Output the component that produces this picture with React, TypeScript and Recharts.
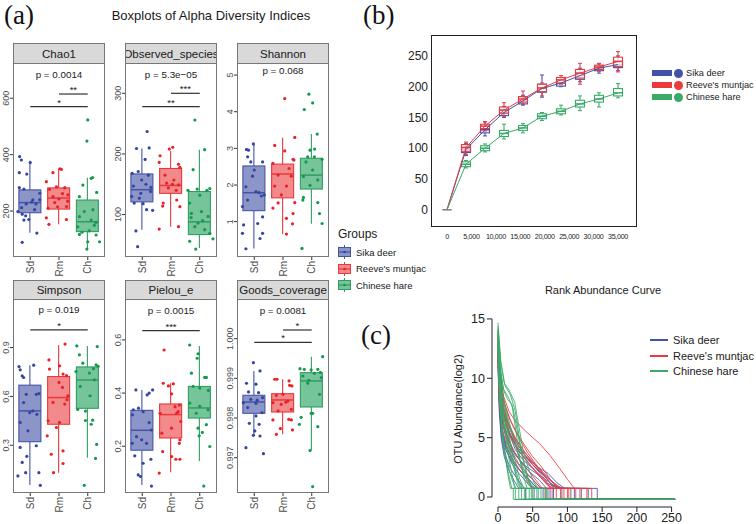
import React from "react";
import {
  ComposedChart,
  LineChart,
  Bar,
  Line,
  Scatter,
  XAxis,
  YAxis,
  ReferenceLine,
} from "recharts";

// ---------- shared ----------
const groupCodes = ["Sd", "Rm", "Ch"];
const groupNames = ["Sika deer", "Reeve's muntjac", "Chinese hare"];
const boxFill = ["#8c95c8", "#f28a8c", "#76c49a"];
const boxStroke = ["#4654a6", "#e8383b", "#2f9d62"];
const pointColor = ["#3546a0", "#ec2028", "#16994f"];
const lineColor = ["#4252a8", "#ea3a3d", "#3aa96a"];

const SANS = '"Liberation Sans", Arial, Helvetica, sans-serif';
const SERIF = '"Liberation Serif", "Times New Roman", serif';

// ---------- (a) boxplots: [lo, q1, median, q3, hi] per group ----------
const chao1Stats = [[123, 194, 230, 275, 378], [153, 207, 246, 282, 349], [65, 127, 162, 239, 318]];
const chao1Pts = [
  [[-0.37, 393], [-0.31, 381], [-0.38, 336], [-0.12, 331], [0, 372], [-0.38, 283], [-0.22, 278], [0.33, 263], [0.09, 240], [-0.14, 225], [0.2, 225], [-0.43, 198], [-0.28, 189], [-0.16, 183], [-0.22, 168], [-0.05, 170], [0.23, 122], [-0.28, 89], [0.33, 240], [0.05, 232], [-0.3, 212], [0.15, 205]],
  [[-0.21, 336], [0.08, 348], [0.03, 350], [-0.44, 304], [-0.33, 277], [-0.09, 286], [0.2, 283], [-0.21, 251], [0.31, 257], [-0.38, 210], [0.26, 216], [-0.44, 176], [-0.35, 153], [0.26, 170], [0, 243], [0.12, 262], [-0.15, 230], [0.3, 235], [-0.05, 215]],
  [[0, 523], [-0.03, 448], [0.12, 316], [0.17, 319], [-0.17, 292], [0.31, 266], [-0.29, 251], [-0.12, 198], [-0.29, 180], [0.12, 168], [0.23, 150], [-0.29, 117], [0.29, 115], [0, 91], [0.41, 91], [-0.03, 65], [-0.35, 144], [0.29, 160], [0.05, 130], [-0.2, 125], [0.18, 205]],
];

const observedStats = [[75, 121, 141, 167, 209], [80, 135, 148, 176, 205], [45, 67, 88, 138, 207]];
const observedPts = [
  [[0.17, 237], [-0.2, 209], [0.24, 210], [0.1, 191], [-0.35, 168], [-0.14, 171], [0.21, 165], [-0.31, 147], [0.13, 150], [0.29, 138], [-0.37, 130], [-0.1, 127], [-0.28, 119], [0.03, 118], [0.15, 108], [0.36, 107], [-0.22, 73], [-0.16, 47], [-0.02, 157], [0.3, 145], [-0.05, 135]],
  [[-0.38, 197], [-0.41, 186], [-0.06, 208], [0.06, 211], [0.26, 183], [0.31, 178], [-0.21, 165], [0.1, 157], [0.26, 149], [-0.27, 119], [-0.29, 114], [0.2, 124], [0.31, 113], [-0.41, 76], [0.26, 80], [-0.09, 144], [0.05, 150], [-0.15, 152], [0.18, 140]],
  [[-0.17, 256], [0.17, 207], [-0.23, 174], [-0.09, 142], [0.35, 143], [-0.41, 140], [0, 132], [-0.35, 119], [-0.29, 102], [0.06, 105], [0.29, 97], [-0.06, 86], [0.17, 75], [0.35, 69], [-0.35, 56], [-0.14, 43], [0.46, 60], [-0.17, 80], [0.25, 140], [0.1, 90], [-0.3, 95]],
];

const shannonStats = [[0.27, 1.3, 1.79, 2.52, 3.09], [0.66, 1.65, 2.3, 2.57, 3.29], [0.94, 1.89, 2.27, 2.73, 3.39]];
const shannonPts = [
  [[-0.03, 3.12], [-0.27, 2.97], [-0.2, 2.95], [-0.23, 2.77], [-0.12, 2.63], [0.29, 2.63], [0, 2.41], [-0.06, 2.24], [-0.29, 1.95], [0.06, 1.82], [0.17, 1.79], [0.35, 1.73], [-0.41, 1.41], [-0.23, 1.59], [0.29, 1.13], [0.12, 0.95], [-0.37, 0.91], [-0.41, 0.68], [0.29, 0.68], [0.2, 0.54], [-0.29, 0.26], [0.25, 1.7]],
  [[0.06, 4.36], [-0.29, 3.08], [0.41, 3.3], [0.06, 2.93], [0.35, 2.7], [-0.35, 2.59], [0.21, 2.45], [-0.17, 2.27], [0.29, 2.24], [-0.29, 1.97], [0.12, 1.97], [-0.06, 1.73], [0.41, 1.52], [-0.17, 1.51], [-0.35, 1.37], [0.35, 1.22], [0.12, 1.09], [0.33, 0.94], [0.12, 0.66], [0.38, 2.68]],
  [[-0.1, 4.48], [0.03, 4.24], [-0.26, 4.06], [0.19, 3.39], [-0.06, 2.95], [-0.14, 2.77], [0.09, 2.77], [0.36, 2.7], [-0.2, 2.63], [0.03, 2.41], [-0.29, 2.23], [0.21, 2.14], [-0.06, 1.99], [-0.29, 1.66], [0.21, 1.52], [-0.31, 1.59], [0.27, 1.22], [0.36, 0.95], [-0.34, 0.27], [0.1, 2.98]],
];

const simpsonStats = [[0.056, 0.322, 0.511, 0.669, 0.792], [0.132, 0.429, 0.593, 0.722, 0.915], [0.224, 0.527, 0.701, 0.781, 0.91]];
const simpsonPts = [
  [[-0.39, 0.783], [-0.35, 0.763], [-0.28, 0.726], [-0.23, 0.716], [0.12, 0.792], [-0.14, 0.613], [0.21, 0.613], [0.3, 0.617], [-0.23, 0.562], [0.09, 0.511], [-0.02, 0.501], [0.23, 0.49], [-0.35, 0.44], [-0.08, 0.389], [0.21, 0.297], [-0.35, 0.287], [-0.28, 0.195], [-0.12, 0.232], [-0.16, 0.132], [0.3, 0.132], [-0.43, 0.112], [0.35, 0.054]],
  [[0.21, 0.921], [-0.35, 0.824], [0.02, 0.788], [-0.33, 0.768], [0.14, 0.737], [0.26, 0.727], [0, 0.686], [0.12, 0.655], [0.31, 0.604], [-0.21, 0.563], [0.2, 0.553], [-0.38, 0.45], [0.02, 0.44], [-0.09, 0.409], [-0.41, 0.358], [-0.27, 0.245], [0.14, 0.266], [0.14, 0.188], [-0.19, 0.132], [0.28, 0.58]],
  [[-0.38, 0.91], [0.33, 0.906], [-0.29, 0.855], [-0.17, 0.804], [0.29, 0.794], [-0.41, 0.753], [0.06, 0.743], [0.23, 0.702], [-0.26, 0.661], [0.08, 0.604], [-0.35, 0.52], [-0.08, 0.51], [-0.08, 0.452], [0.17, 0.454], [0.12, 0.429], [0.31, 0.305], [0.27, 0.219], [-0.12, 0.054], [0.36, 0.785], [0.2, 0.77]],
];

const pielouStats = [[0.054, 0.185, 0.26, 0.335, 0.412], [0.102, 0.231, 0.319, 0.359, 0.437], [0.144, 0.306, 0.344, 0.425, 0.577]];
const pielouPts = [
  [[-0.22, 0.412], [0.36, 0.412], [0.24, 0.4], [0.17, 0.393], [-0.31, 0.337], [-0.13, 0.343], [0.03, 0.33], [-0.34, 0.318], [0.24, 0.289], [0.32, 0.261], [-0.2, 0.236], [-0.02, 0.224], [-0.35, 0.211], [0.15, 0.211], [-0.26, 0.164], [0.3, 0.151], [0.03, 0.136], [-0.14, 0.092], [-0.06, 0.086], [0.32, 0.05]],
  [[-0.24, 0.562], [-0.27, 0.437], [-0.09, 0.427], [0.08, 0.435], [0.02, 0.397], [0.14, 0.349], [0.29, 0.355], [-0.38, 0.324], [0.2, 0.324], [0.34, 0.293], [0.02, 0.268], [-0.32, 0.249], [0.31, 0.224], [0.29, 0.211], [-0.29, 0.18], [0.02, 0.161], [0.17, 0.151], [0.31, 0.151], [-0.41, 0.099], [0.25, 0.33]],
  [[-0.35, 0.581], [-0.06, 0.548], [-0.09, 0.531], [-0.29, 0.475], [0.17, 0.459], [0.23, 0.459], [-0.23, 0.425], [0, 0.419], [-0.35, 0.362], [0, 0.35], [0.29, 0.337], [-0.12, 0.324], [0.23, 0.281], [-0.06, 0.268], [0.09, 0.252], [-0.02, 0.239], [0.35, 0.199], [0.14, 0.05], [0.3, 0.41]],
];

const goodsStats = [[0.997547, 0.998119, 0.998404, 0.998573, 0.999186], [0.99759, 0.998152, 0.998455, 0.998613, 0.998977], [0.997187, 0.998278, 0.998934, 0.999143, 0.999546]];
const goodsPts = [
  [[-0.03, 0.999395], [0.2, 0.999186], [-0.27, 0.998876], [0.06, 0.998852], [-0.2, 0.998658], [0.15, 0.99864], [-0.38, 0.998388], [-0.12, 0.998472], [0.29, 0.998514], [0.06, 0.998371], [-0.23, 0.998262], [0.27, 0.998136], [0.06, 0.998052], [-0.17, 0.997867], [0.17, 0.997842], [0.02, 0.997674], [-0.03, 0.997565], [0.2, 0.997547], [-0.29, 0.997253], [0.32, 0.997102], [0.1, 0.99845]],
  [[-0.29, 0.998977], [-0.21, 0.998977], [0.21, 0.998934], [0.23, 0.998825], [0.31, 0.998808], [0, 0.998598], [-0.23, 0.998573], [0.17, 0.998429], [-0.35, 0.998388], [-0.06, 0.998346], [0.29, 0.99822], [-0.17, 0.998178], [0.2, 0.997968], [0.29, 0.997951], [-0.35, 0.997951], [-0.09, 0.997733], [0.33, 0.997699], [-0.23, 0.99759], [0.1, 0.9984]],
  [[0.38, 0.999546], [-0.41, 0.999244], [-0.26, 0.999228], [-0.02, 0.999211], [0.21, 0.999228], [0.09, 0.999126], [-0.31, 0.999059], [0.33, 0.999018], [-0.14, 0.998876], [0.27, 0.998598], [-0.37, 0.998018], [-0.43, 0.997842], [0.03, 0.998119], [-0.02, 0.998119], [0.21, 0.997783], [-0.06, 0.997179], [0.03, 0.996271], [0.3, 0.99915], [-0.1, 0.99895]],
];

// brackets: [fromGroup, toGroup, y, stars]
const panels = [
  { title: "Chao1", domain: [37, 725], ticks: [200, 400, 600], digits: 0, stats: chao1Stats, pts: chao1Pts, brackets: [[1, 3, 570, "*"], [2, 3, 615, "**"]], pY: 683, p: "p = 0.0014" },
  { title: "Observed_species", domain: [30, 350], ticks: [100, 200, 300], digits: 0, stats: observedStats, pts: observedPts, brackets: [[1, 3, 278, "**"], [2, 3, 300, "***"]], pY: 331, p: "p = 5.3e\u221205" },
  { title: "Shannon", domain: [0.035, 5.33], ticks: [1, 2, 3, 4, 5], digits: 0, stats: shannonStats, pts: shannonPts, brackets: [], pY: 5.11, p: "p = 0.068" },
  { title: "Simpson", domain: [0.007, 1.198], ticks: [0.3, 0.6, 0.9], digits: 1, stats: simpsonStats, pts: simpsonPts, brackets: [[1, 3, 1.009, "*"]], pY: 1.136, p: "p = 0.019" },
  { title: "Pielou_e", domain: [0.024, 0.754], ticks: [0.2, 0.4, 0.6], digits: 1, stats: pielouStats, pts: pielouPts, brackets: [[1, 3, 0.635, "***"]], pY: 0.712, p: "p = 0.0015" },
  { title: "Goods_coverage", domain: [0.99611, 1.001], ticks: [0.997, 0.998, 0.999, 1.0], digits: 3, stats: goodsStats, pts: goodsPts, brackets: [[1, 3, 0.999909, "*"], [2, 3, 1.000219, "*"]], pY: 1.000698, p: "p = 0.0081" },
];

// ---------- (b) rarefaction ----------
const rareX = [0, 3889, 7778, 11667, 15556, 19444, 23333, 27222, 31111, 35000];
const rareXTicks = [0, 5000, 10000, 15000, 20000, 25000, 30000, 35000];
const sikaMed = [0, 98, 130, 158, 177, 197, 206, 218, 230, 236];
const sikaQ1 = [0, 93, 125, 153, 172, 191, 201, 212, 226, 231];
const sikaQ3 = [0, 103, 136, 163, 182, 204, 211, 223, 234, 242];
const sikaLo = [0, 88, 120, 150, 170, 183, 200, 208, 222, 226];
const sikaHi = [0, 108, 143, 168, 186, 219, 215, 230, 237, 250];
const reeveMed = [0, 101, 136, 162, 180, 198, 211, 222, 232, 241];
const reeveQ1 = [0, 95, 132, 157, 175, 192, 206, 214, 228, 233];
const reeveQ3 = [0, 106, 139, 167, 184, 204, 215, 228, 235, 248];
const reeveLo = [0, 90, 128, 152, 172, 185, 204, 204, 225, 224];
const reeveHi = [0, 110, 143, 174, 193, 206, 218, 238, 238, 257];
const hareMed = [0, 74, 100, 124, 133, 152, 160, 172, 180, 190];
const hareQ1 = [0, 70, 96, 119, 129, 148, 156, 167, 175, 185];
const hareQ3 = [0, 78, 104, 129, 137, 156, 164, 178, 186, 197];
const hareLo = [0, 68, 94, 115, 125, 145, 154, 161, 167, 182];
const hareHi = [0, 80, 107, 139, 140, 158, 170, 185, 190, 205];

// ---------- (c) rank abundance: flat [rank, log2 abundance, ...] ----------
const CURVE_FLOOR = -0.2;
const CURVE_END = 255;
const sikaCurves = [
  [0, 13.5, 3, 9.5, 8, 7, 15, 5.5, 25, 4, 35, 3.2, 50, 2.4, 65, 1.6, 80, 1, 95, 0.73, 143, 0.73],
  [0, 12.8, 3, 8.8, 8, 6.2, 15, 4.8, 25, 3.5, 40, 2.6, 55, 2, 70, 1.2, 85, 0.73, 105, 0.73],
  [0, 13, 3, 9, 9, 6.8, 18, 5.2, 30, 3.8, 45, 3, 60, 2.2, 75, 1.4, 88, 0.73, 120, 0.73],
  [0, 12.2, 2, 8, 6, 5.8, 12, 4.2, 22, 3, 35, 2, 48, 1.2, 58, 0.73, 72, 0.73],
  [0, 13.8, 3, 10, 8, 7.5, 16, 6, 26, 4.6, 38, 3.6, 52, 2.6, 66, 1.8, 78, 1, 90, 0.73, 110, 0.73],
  [0, 11.5, 2, 7.5, 5, 5, 10, 3.6, 18, 2.4, 28, 1.5, 38, 0.73, 52, 0.73],
  [0, 12.5, 3, 8.5, 7, 6, 14, 4.5, 24, 3.2, 36, 2.2, 50, 1.5, 62, 0.73, 80, 0.73],
  [0, 13.2, 3, 9.2, 8, 7, 16, 5.5, 28, 4.2, 42, 3.3, 58, 2.5, 72, 2, 85, 1.2, 96, 0.73, 130, 0.73],
  [0, 12, 2, 8.2, 6, 5.5, 12, 4, 20, 2.8, 30, 2, 42, 1.2, 50, 0.73, 65, 0.73],
  [0, 11.8, 2, 7.8, 5, 5.4, 11, 4, 20, 3, 32, 2.2, 45, 1.5, 56, 0.73, 75, 0.73],
  [0, 12.6, 3, 8.6, 7, 6.4, 14, 5, 22, 3.9, 34, 2.9, 46, 2.1, 60, 1.4, 70, 0.73, 92, 0.73],
  [0, 11, 2, 7, 5, 4.8, 9, 3.4, 16, 2.2, 24, 1.3, 30, 0.73, 40, 0.73],
];
const reeveCurves = [
  [0, 14, 3, 10.8, 8, 8.5, 16, 7.2, 25, 6.4, 32, 6, 39, 5.6, 50, 5, 60, 4.5, 75, 3.5, 89, 2.4, 100, 1.5, 110, 0.73, 135, 0.73],
  [0, 13.2, 3, 9.8, 8, 7.6, 15, 6.2, 25, 5, 38, 3.8, 50, 3, 62, 2.2, 75, 1.5, 88, 0.73, 112, 0.73],
  [0, 12.8, 3, 9.2, 8, 7, 15, 5.6, 25, 4.4, 36, 3.4, 48, 2.6, 60, 1.8, 72, 1, 80, 0.73, 100, 0.73],
  [0, 13.5, 3, 10.2, 9, 8, 17, 6.6, 27, 5.4, 38, 4.4, 50, 3.4, 62, 2.6, 74, 1.6, 85, 0.73, 118, 0.73],
  [0, 12, 2, 8.5, 6, 6.4, 12, 5, 20, 3.8, 30, 2.8, 42, 2, 54, 1.2, 62, 0.73, 78, 0.73],
  [0, 13, 3, 9.5, 8, 7.2, 16, 6, 26, 4.8, 36, 4, 46, 3.2, 58, 2.4, 70, 1.6, 80, 0.73, 95, 0.73],
  [0, 11.5, 2, 8, 6, 5.8, 12, 4.4, 20, 3.3, 30, 2.4, 40, 1.6, 50, 0.73, 68, 0.73],
  [0, 12.5, 3, 9, 8, 6.8, 15, 5.4, 24, 4.4, 34, 3.6, 45, 2.8, 56, 2, 68, 1.2, 76, 0.73, 90, 0.73],
  [0, 13.6, 3, 10, 9, 7.8, 18, 6.4, 30, 5, 42, 3.8, 54, 2.8, 66, 2, 78, 1.3, 92, 0.73, 128, 0.73],
  [0, 12.2, 2, 8.8, 6, 6.6, 13, 5.2, 22, 4, 32, 3, 44, 2.2, 55, 1.4, 64, 0.73, 84, 0.73],
  [0, 12.9, 3, 9.4, 7, 7.4, 14, 6.1, 22, 5.1, 31, 4.2, 42, 3.3, 53, 2.5, 65, 1.7, 76, 0.73, 102, 0.73],
];
const hareCurves = [
  [0, 14.7, 4, 11.5, 10, 9.4, 18, 8.6, 25, 7.2, 32, 4.5, 38, 2.8, 45, 1.2, 52, 0.73, 58, 0.73],
  [0, 14.2, 3, 11, 8, 9, 14, 8.2, 20, 7.8, 26, 5.5, 32, 3, 38, 1.5, 42, 0.73, 50, 0.73],
  [0, 13.8, 2, 10.5, 6, 8, 12, 6.5, 18, 4.5, 24, 2.5, 28, 1.2, 32, 0.73, 40, 0.73],
  [0, 13.5, 2, 10, 5, 7.5, 10, 5.5, 15, 3.5, 20, 2, 24, 0.73, 30, 0.73],
  [0, 12.8, 2, 9.5, 5, 6.5, 9, 4, 14, 2, 18, 0.73, 22, 0.73],
  [0, 14, 3, 10.8, 7, 8.5, 13, 7, 20, 5.5, 28, 3.8, 36, 2.2, 44, 1, 50, 0.73, 62, 0.73],
  [0, 13.2, 2, 10.2, 6, 7.8, 11, 5.8, 17, 4, 24, 2.6, 30, 1.4, 35, 0.73, 45, 0.73],
  [0, 12.5, 2, 9, 5, 6, 9, 4.2, 14, 2.8, 20, 1.5, 26, 0.73, 34, 0.73],
  [0, 14.4, 4, 11.2, 9, 9.6, 16, 9, 24, 8, 30, 6, 36, 4, 44, 2.4, 52, 1.2, 58, 0.73, 70, 0.73],
  [0, 13, 2, 9.8, 6, 7, 12, 5, 19, 3.2, 26, 1.8, 33, 0.73, 38, 0.73],
  [0, 12, 2, 8.5, 5, 5.5, 10, 3.5, 15, 2, 20, 0.73, 25, 0.73],
  [0, 13.6, 3, 10.4, 8, 8, 15, 6.2, 23, 4.8, 31, 3.2, 40, 2, 48, 1, 55, 0.73, 68, 0.73],
  [0, 14.1, 3, 10.9, 8, 9.1, 15, 8.4, 22, 7.4, 29, 5.2, 35, 3.4, 42, 1.8, 48, 0.73, 56, 0.73],
  [0, 13.3, 2, 9.9, 6, 7.4, 12, 5.9, 18, 4.4, 25, 3, 31, 1.6, 37, 0.73, 48, 0.73],
];

// ---------- helpers ----------
function drawBox(
  props: any,
  q1: number,
  q3: number,
  lo: number,
  med: number,
  hi: number,
  fill: string,
  stroke: string,
  cap: number,
  fillOpacity: number
) {
  const { x, y, width, height } = props;
  const top = Math.min(y, y + height);
  const h = Math.abs(height);
  const cx = x + width / 2;
  if (q3 === q1 || !h) {
    return <line x1={x} x2={x + width} y1={top} y2={top} stroke="#888" strokeWidth={1} />;
  }
  const unit = h / (q3 - q1);
  const toY = (v: number) => top + (q3 - v) * unit;
  return (
    <g>
      <line x1={cx} x2={cx} y1={toY(hi)} y2={top} stroke={stroke} strokeWidth={1.1} />
      <line x1={cx} x2={cx} y1={top + h} y2={toY(lo)} stroke={stroke} strokeWidth={1.1} />
      {cap > 0 && (
        <>
          <line x1={cx - cap} x2={cx + cap} y1={toY(hi)} y2={toY(hi)} stroke={stroke} strokeWidth={1} />
          <line x1={cx - cap} x2={cx + cap} y1={toY(lo)} y2={toY(lo)} stroke={stroke} strokeWidth={1} />
        </>
      )}
      <rect x={x} y={top} width={width} height={h} fill={fill} fillOpacity={fillOpacity} stroke={stroke} strokeWidth={1.1} />
      <line x1={x} x2={x + width} y1={toY(med)} y2={toY(med)} stroke={stroke} strokeWidth={1.5} />
    </g>
  );
}

const groupBoxShape = (props: any) => {
  const p = props.payload;
  return drawBox(props, p.q1, p.q3, p.lo, p.med, p.hi, boxFill[p.g], boxStroke[p.g], 0, 1);
};

const RotXTick = (props: any) => {
  const { x, y, payload } = props;
  return (
    <text x={x} y={y} transform={`rotate(-90, ${x}, ${y})`} textAnchor="end" dy="0.35em" fontSize={10} fill="#4d4d4d" fontFamily={SANS}>
      {groupCodes[payload.value - 1]}
    </text>
  );
};

const makeRotYTick = (digits: number) => (props: any) => {
  const { x, y, payload } = props;
  return (
    <text x={x} y={y} transform={`rotate(-90, ${x}, ${y})`} textAnchor="middle" fontSize={9} fill="#4d4d4d" fontFamily={SANS}>
      {Number(payload.value).toFixed(digits)}
    </text>
  );
};

const TextMark = (props: any) => {
  const { cx, cy, payload } = props;
  return (
    <text x={cx} y={cy} dy={payload.dy} textAnchor="middle" fontSize={payload.size} fill="#1a1a1a" fontFamily={SANS}>
      {payload.label}
    </text>
  );
};

const Dot = (color: string) => (props: any) => <circle cx={props.cx} cy={props.cy} r={1.6} fill={color} />;

const RareXTick = (props: any) => {
  const { x, y, payload } = props;
  return (
    <text x={x} y={y} dy="0.71em" textAnchor="middle" fontSize={7.2} letterSpacing={-0.35} fill="#222" fontFamily={SANS}>
      {Number(payload.value).toLocaleString("en-US")}
    </text>
  );
};

const PANEL_W = 92;
const PANEL_H = 194;
const Y_W = 14;
const X_H = 22;
const colLeft = [13, 125, 237];
const rowStrip = [43, 280];
const rowBody = [63, 299];

function BoxPanel({ cfg, left, top }: { cfg: any; left: number; top: number }) {
  const boxData = cfg.stats.map((s: number[], g: number) => ({
    x: g + 1,
    g,
    lo: s[0],
    q1: s[1],
    med: s[2],
    q3: s[3],
    hi: s[4],
    box: [s[1], s[3]],
  }));
  const textData = [
    { x: 2, y: cfg.pY, label: cfg.p, dy: "0.35em", size: 9.8 },
    ...cfg.brackets.map((b: any[]) => ({ x: (b[0] + b[1]) / 2, y: b[2], label: b[3], dy: -1, size: 9.5 })),
  ];
  return (
    <div style={{ position: "absolute", left: left - Y_W, top }}>
      <ComposedChart width={PANEL_W + Y_W} height={PANEL_H + X_H} data={boxData} margin={{ top: 0, right: 0, bottom: 0, left: 0 }}>
        <XAxis
          type="number"
          dataKey="x"
          domain={[0.4, 3.6]}
          ticks={[1, 2, 3]}
          interval={0}
          allowDataOverflow
          axisLine={false}
          tickSize={3}
          tickMargin={1}
          tickLine={{ stroke: "#333" }}
          tick={RotXTick}
          height={X_H}
        />
        <XAxis xAxisId="pts" type="number" dataKey="x" domain={[0.4, 3.6]} allowDataOverflow hide />
        <YAxis
          type="number"
          domain={cfg.domain}
          ticks={cfg.ticks}
          interval={0}
          allowDataOverflow
          axisLine={false}
          tickSize={3}
          tickMargin={1}
          tickLine={{ stroke: "#333" }}
          tick={makeRotYTick(cfg.digits)}
          width={Y_W}
        />
        <Bar dataKey="box" barSize={22} shape={groupBoxShape} isAnimationActive={false} />
        {cfg.pts.map((grp: number[][], g: number) => (
          <Scatter
            key={g}
            xAxisId="pts"
            data={grp.map((p) => ({ x: g + 1 + p[0], y: p[1] }))}
            dataKey="y"
            shape={Dot(pointColor[g])}
            isAnimationActive={false}
          />
        ))}
        {cfg.brackets.map((b: any[], i: number) => (
          <ReferenceLine
            key={i}
            xAxisId="pts"
            segment={[{ x: b[0], y: b[2] }, { x: b[1], y: b[2] }]}
            stroke="#333"
            strokeWidth={1.2}
          />
        ))}
        <Scatter xAxisId="pts" data={textData} dataKey="y" shape={TextMark} isAnimationActive={false} />
      </ComposedChart>
      <div
        style={{
          position: "absolute",
          left: Y_W,
          top: 0,
          width: PANEL_W,
          height: PANEL_H,
          border: "1px solid #777",
          boxSizing: "border-box",
          pointerEvents: "none",
        }}
      />
    </div>
  );
}

function Strip({ title, left, top, h }: { title: string; left: number; top: number; h: number }) {
  return (
    <div
      style={{
        position: "absolute",
        left,
        top,
        width: PANEL_W,
        height: h + 1,
        background: "#d9d9d9",
        border: "1px solid #777",
        boxSizing: "border-box",
        display: "flex",
        justifyContent: "center",
        alignItems: "center",
        overflow: "hidden",
        fontFamily: SANS,
        fontSize: 11.5,
        color: "#1a1a1a",
        whiteSpace: "nowrap",
      }}
    >
      <span style={{ flexShrink: 0 }}>{title}</span>
    </div>
  );
}

function BoxIcon({ g }: { g: number }) {
  return (
    <svg width={13} height={14} style={{ display: "block" }}>
      <line x1={6.5} x2={6.5} y1={0} y2={14} stroke={boxStroke[g]} strokeWidth={1} />
      <rect x={0.5} y={2.5} width={12} height={9} fill={boxFill[g]} stroke={boxStroke[g]} />
      <line x1={0.5} x2={12.5} y1={7} y2={7} stroke={boxStroke[g]} strokeWidth={1.2} />
      <circle cx={6.5} cy={7} r={1.3} fill={pointColor[g]} />
    </svg>
  );
}

// ---------- (b) ----------
const rareSeries = [
  { med: sikaMed, q1: sikaQ1, q3: sikaQ3, lo: sikaLo, hi: sikaHi },
  { med: reeveMed, q1: reeveQ1, q3: reeveQ3, lo: reeveLo, hi: reeveHi },
  { med: hareMed, q1: hareQ1, q3: hareQ3, lo: hareLo, hi: hareHi },
];
const rareData = rareX.map((x, i) => {
  const row: any = { x };
  rareSeries.forEach((s, g) => {
    row[`box${g}`] = [s.q1[i], s.q3[i]];
    row[`med${g}`] = s.med[i];
    row[`lo${g}`] = s.lo[i];
    row[`hi${g}`] = s.hi[i];
    row[`q1${g}`] = s.q1[i];
    row[`q3${g}`] = s.q3[i];
  });
  return row;
});

const rareShape = (g: number) => (props: any) => {
  const p = props.payload;
  return drawBox(props, p[`q1${g}`], p[`q3${g}`], p[`lo${g}`], p[`med${g}`], p[`hi${g}`], "#ffffff", lineColor[g], 2, 0.75);
};

// ---------- (c) ----------
function curveData(flat: number[]) {
  const pts: { x: number; y: number }[] = [];
  for (let i = 0; i < flat.length; i += 2) pts.push({ x: flat[i], y: flat[i + 1] });
  const lastX = flat[flat.length - 2];
  pts.push({ x: lastX, y: CURVE_FLOOR }, { x: CURVE_END, y: CURVE_FLOOR });
  return pts;
}
const curveGroups = [sikaCurves, reeveCurves, hareCurves];

export default function App() {
  return (
    <div style={{ position: "absolute", left: 0, top: 0, width: 756, height: 524, background: "#fff", overflow: "hidden", fontFamily: SANS }}>
      {/* labels */}
      <div style={{ position: "absolute", left: 4, top: 0, fontFamily: SERIF, fontSize: 27, color: "#111" }}>(a)</div>
      <div style={{ position: "absolute", left: 363, top: 0, fontFamily: SERIF, fontSize: 27, color: "#111" }}>(b)</div>
      <div style={{ position: "absolute", left: 361, top: 320, fontFamily: SERIF, fontSize: 27, color: "#111" }}>(c)</div>

      {/* (a) */}
      <div style={{ position: "absolute", left: 110, top: 8, width: 202, textAlign: "center", fontSize: 13, color: "#1a1a1a", whiteSpace: "nowrap" }}>
        Boxplots of Alpha Diversity Indices
      </div>
      {panels.map((cfg, i) => {
        const row = Math.floor(i / 3);
        const col = i % 3;
        return (
          <React.Fragment key={cfg.title}>
            <Strip title={cfg.title} left={colLeft[col]} top={rowStrip[row]} h={rowBody[row] - rowStrip[row]} />
            <BoxPanel cfg={cfg} left={colLeft[col]} top={rowBody[row]} />
          </React.Fragment>
        );
      })}
      <div style={{ position: "absolute", left: 338, top: 227, fontSize: 12, color: "#1a1a1a" }}>Groups</div>
      {groupNames.map((n, g) => (
        <div key={n} style={{ position: "absolute", left: 338, top: 245 + g * 16.5, display: "flex", alignItems: "center", gap: 5, fontSize: 9.5, color: "#1a1a1a", whiteSpace: "nowrap" }}>
          <BoxIcon g={g} />
          <span>{n}</span>
        </div>
      ))}

      {/* (b) */}
      <div style={{ position: "absolute", left: 380, top: 35 }}>
        <ComposedChart width={257} height={212} data={rareData} margin={{ top: 0, right: 0, bottom: 0, left: 0 }}>
          {[0, 1, 2].map((g) => (
            <XAxis
              key={g}
              xAxisId={g}
              type="number"
              dataKey="x"
              domain={[-3275, 38890]}
              ticks={rareXTicks}
              interval={0}
              allowDataOverflow
              hide={g !== 0}
              axisLine={false}
              tickLine={false}
              tickSize={0}
              tickMargin={7}
              tick={RareXTick}
              height={20}
            />
          ))}
          <YAxis
            type="number"
            domain={[-28, 284]}
            ticks={[0, 50, 100, 150, 200, 250]}
            interval={0}
            allowDataOverflow
            axisLine={false}
            tickLine={false}
            tickSize={0}
            tickMargin={3}
            tick={{ fontSize: 12, fill: "#222", fontFamily: SANS }}
            width={51}
          />
          {[0, 1, 2].map((g) => (
            <Line
              key={`l${g}`}
              xAxisId={g}
              dataKey={`med${g}`}
              stroke={lineColor[g]}
              strokeWidth={1}
              dot={false}
              isAnimationActive={false}
            />
          ))}
          {[0, 1, 2].map((g) => (
            <Bar key={`b${g}`} xAxisId={g} dataKey={`box${g}`} barSize={9} shape={rareShape(g)} isAnimationActive={false} />
          ))}
        </ComposedChart>
        <div style={{ position: "absolute", left: 51, top: 0, width: 206, height: 192, border: "1px solid #222", boxSizing: "border-box", pointerEvents: "none" }} />
      </div>
      {groupNames.map((n, g) => (
        <div key={`bl${n}`} style={{ position: "absolute", left: 652, top: 68 + g * 12, display: "flex", alignItems: "center", fontSize: 9.2, color: "#222", whiteSpace: "nowrap" }}>
          <div style={{ width: 20, height: 6, background: lineColor[g] }} />
          <div style={{ width: 9, height: 9, borderRadius: "50%", background: lineColor[g], marginLeft: 2, marginRight: 3 }} />
          <span>{n}</span>
        </div>
      ))}

      {/* (c) */}
      <div style={{ position: "absolute", left: 500, top: 284, width: 206, textAlign: "center", fontSize: 11, color: "#1a1a1a", whiteSpace: "nowrap" }}>
        Rank Abundance Curve
      </div>
      <div
        style={{
          position: "absolute",
          left: 458,
          top: 409,
          transform: "translate(-50%, -50%) rotate(-90deg)",
          fontSize: 11,
          color: "#1a1a1a",
          whiteSpace: "nowrap",
        }}
      >
        OTU Abundance(log2)
      </div>
      <div style={{ position: "absolute", left: 440, top: 313 }}>
        <LineChart width={242} height={220} margin={{ top: 0, right: 0, bottom: 0, left: 0 }}>
          <XAxis
            type="number"
            dataKey="x"
            domain={[-8.6, 265]}
            ticks={[0, 50, 100, 150, 200, 250]}
            interval={0}
            allowDataOverflow
            axisLine={false}
            tickSize={5}
            tickMargin={1}
            tickLine={{ stroke: "#222" }}
            tick={{ fontSize: 12.5, fill: "#222", fontFamily: SANS }}
            height={26}
          />
          <YAxis
            type="number"
            domain={[-0.84, 15.5]}
            ticks={[0, 5, 10, 15]}
            interval={0}
            allowDataOverflow
            axisLine={false}
            tickSize={5}
            tickMargin={2}
            tickLine={{ stroke: "#222" }}
            tick={{ fontSize: 12.5, fill: "#222", fontFamily: SANS }}
            width={52}
          />
          {curveGroups.map((curves, g) =>
            curves.map((c, i) => (
              <Line
                key={`c${g}-${i}`}
                data={curveData(c)}
                dataKey="y"
                stroke={lineColor[g]}
                strokeOpacity={0.85}
                strokeWidth={1}
                dot={false}
                isAnimationActive={false}
              />
            ))
          )}
          <ReferenceLine segment={[{ x: -8.6, y: 0 }, { x: -8.6, y: 15 }]} stroke="#222" strokeWidth={1} ifOverflow="visible" />
          <ReferenceLine segment={[{ x: 0, y: -0.84 }, { x: 250, y: -0.84 }]} stroke="#222" strokeWidth={1} ifOverflow="visible" />
        </LineChart>
      </div>
      {groupNames.map((n, g) => (
        <div key={`cl${n}`} style={{ position: "absolute", left: 650, top: 334 + g * 15.5, display: "flex", alignItems: "center", fontSize: 11, color: "#1a1a1a", whiteSpace: "nowrap" }}>
          <div style={{ width: 18, height: 2, background: lineColor[g], marginRight: 5 }} />
          <span>{n}</span>
        </div>
      ))}
    </div>
  );
}
